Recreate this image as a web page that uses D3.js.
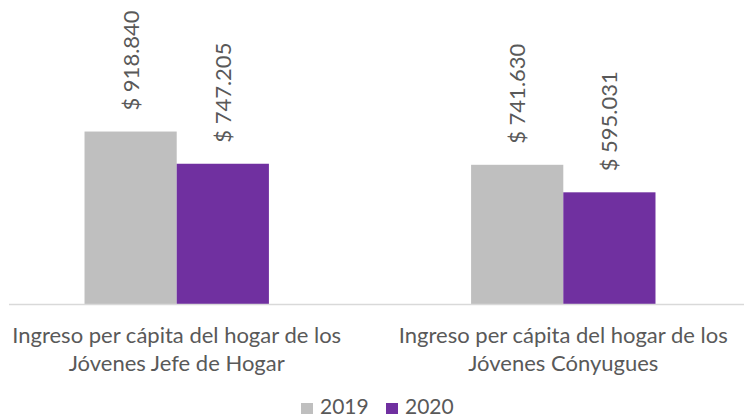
<!DOCTYPE html>
<html>
<head>
<meta charset="utf-8">
<script src="https://cdn.jsdelivr.net/npm/d3@7"></script>
<style>
  body { margin: 0; background: #fff; }
  text { font-family: Lato, "Open Sans", sans-serif; fill: #595959; }
</style>
</head>
<body>
<div id="chart"></div>
<script>
const categories = [
  ["Ingreso per cápita del hogar de los", "Jóvenes Jefe de Hogar"],
  ["Ingreso per cápita del hogar de los", "Jóvenes Cónyugues"]
];
const seriesNames = ["2019", "2020"];
const values2019 = [918840, 741630];
const values2020 = [747205, 595031];
const colors = ["#bfbfbf", "#7030a0"];

const width = 744, height = 419;
const baseY = 304;

const svg = d3.select("#chart").append("svg")
    .attr("width", width)
    .attr("height", height);

const keys = categories.map((c, i) => i);
const x0 = d3.scaleBand()
    .domain(keys)
    .range([-16, 756])
    .paddingInner(0.523)
    .paddingOuter(0.26);

const x1 = d3.scaleBand()
    .domain(seriesNames)
    .range([0, x0.bandwidth()]);

const y = d3.scaleLinear()
    .domain([0, 1000000])
    .range([baseY, 116.3]);

const fmt = d3.formatLocale({ decimal: ",", thousands: ".", grouping: [3], currency: ["$ ", ""] }).format("$,.0f");

const data = keys.map(i => ({
  key: i,
  vals: [values2019[i], values2020[i]]
}));

const groups = svg.selectAll(".grp")
  .data(data)
  .enter().append("g")
    .attr("class", "grp")
    .attr("transform", d => "translate(" + x0(d.key) + ",0)");

groups.selectAll("rect")
  .data(d => d.vals.map((v, j) => ({ name: seriesNames[j], v: v, j: j })))
  .enter().append("rect")
    .attr("x", d => x1(d.name))
    .attr("width", x1.bandwidth())
    .attr("y", d => y(d.v))
    .attr("height", d => baseY - y(d.v))
    .attr("fill", d => colors[d.j]);

// value labels, rotated
groups.selectAll(".lbl")
  .data(d => d.vals.map((v, j) => ({ name: seriesNames[j], v: v })))
  .enter().append("text")
    .attr("class", "lbl")
    .attr("transform", d => "translate(" + (x1(d.name) + x1.bandwidth() / 2 + 8) + "," + (y(d.v) - 21) + ") rotate(-90)")
    .style("font-size", "22px")
    .text(d => fmt(d.v));

// axis line
svg.append("line")
  .attr("x1", 9).attr("x2", width)
  .attr("y1", baseY + 0.5).attr("y2", baseY + 0.5)
  .attr("stroke", "#d9d9d9")
  .attr("stroke-width", 1.5);

// category labels
const catText = svg.selectAll(".cat")
  .data(data)
  .enter().append("text")
    .attr("class", "cat")
    .attr("text-anchor", "middle")
    .attr("x", d => x0(d.key) + x0.bandwidth() / 2)
    .attr("y", 343)
    .style("font-size", "22px");

catText.selectAll("tspan")
  .data(d => categories[d.key])
  .enter().append("tspan")
    .attr("x", function() { return d3.select(this.parentNode).attr("x"); })
    .attr("dy", (d, i) => i === 0 ? 0 : 28)
    .text(d => d);

// legend
const legend = svg.append("g").attr("transform", "translate(301,403)");
const legendX = [0, 85];
seriesNames.forEach((s, i) => {
  const g = legend.append("g").attr("transform", "translate(" + legendX[i] + ",0)");
  g.append("rect").attr("width", 12).attr("height", 11).attr("fill", colors[i]);
  g.append("text").attr("x", 19).attr("y", 11).style("font-size", "21px").text(s);
});
</script>
</body>
</html>
